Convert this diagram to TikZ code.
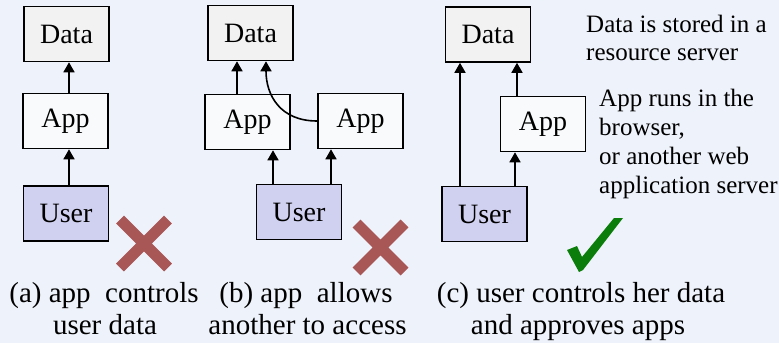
\documentclass[tikz,border=0pt]{standalone}
\usepackage{fontspec}
\setmainfont{LiberationSerif}[Extension=.ttf, UprightFont=*-Regular, BoldFont=*-Bold, ItalicFont=*-Italic]
\usetikzlibrary{positioning, arrows.meta}

\definecolor{bgcol}{RGB}{238,242,250}
\definecolor{datafill}{RGB}{242,242,242}
\definecolor{appfill}{RGB}{248,250,252}
\definecolor{userfill}{RGB}{208,208,240}
\definecolor{crosscol}{RGB}{168,86,86}
\definecolor{tickcol}{RGB}{10,125,10}

\begin{document}
\begin{tikzpicture}[x=1pt, y=-1pt,
		box/.style={draw, line width=1.6pt, minimum width=85pt, minimum height=55pt, inner sep=0pt, font=\rmfamily\fontsize{28}{30}\selectfont},
		databox/.style={box, fill=datafill},
		appbox/.style={box, fill=appfill},
		userbox/.style={box, fill=userfill},
		arr/.style={line width=1.6pt, -{Triangle[width=11pt, length=10pt]}},
		caption/.style={font=\rmfamily\fontsize{29}{32}\selectfont, anchor=base},
		note/.style={font=\rmfamily\fontsize{25}{29}\selectfont, anchor=base west, inner sep=0pt},
		crossmark/.style={line width=11pt, crosscol}]
	\fill[bgcol] (0,0) rectangle (779,343);
	\useasboundingbox (0,0) rectangle (779,343);

	% (a)
	\node[databox] (dataA) at (66.5,34) {Data};
	\node[appbox]  (appA)  at (65.5,121) {App};
	\node[userbox] (userA) at (66,213.5) {User};
	\coordinate (a1) at (69,0);
	\draw[arr] (a1 |- appA.north) -- (a1 |- dataA.south);
	\draw[arr] (a1 |- userA.north) -- (a1 |- appA.south);
	\draw[crossmark] (120,219.5) -- (168,267.5) (120,267.5) -- (168,219.5);
	\node[caption] (capA1) at (104,302) {(a) app~~controls};
	\node[caption] (capA2) at (105,334) {user data};

	% (b)
	\node[databox] (dataB)  at (250.5,33) {Data};
	\node[appbox]  (appB1)  at (247.5,122) {App};
	\node[appbox]  (appB2)  at (360.5,121) {App};
	\node[userbox] (userB)  at (299,212) {User};
	\coordinate (b1) at (237,0);
	\coordinate (b2) at (266,0);
	\coordinate (b3) at (273,0);
	\coordinate (b4) at (331,0);
	\draw[arr] (b1 |- appB1.north) -- (b1 |- dataB.south);
	\draw[arr] (appB2.west) .. controls (280,121) and (266,95) .. (b2 |- dataB.south);
	\draw[arr] (b3 |- userB.north) -- (b3 |- appB1.south);
	\draw[arr] (b4 |- userB.north) -- (b4 |- appB2.south);
	\draw[crossmark] (356.5,223.5) -- (404.5,271.5) (356.5,271.5) -- (404.5,223.5);
	\node[caption] (capB1) at (306,302) {(b) app~~allows};
	\node[caption] (capB2) at (307.5,334) {another to access};

	% (c)
	\node[databox] (dataC) at (488,34.5) {Data};
	\node[appbox]  (appC)  at (543,124) {App};
	\node[userbox] (userC) at (484.5,214) {User};
	\coordinate (c1) at (460,0);
	\coordinate (c2) at (517,0);
	\coordinate (c3) at (515,0);
	\draw[arr] (c1 |- userC.north) -- (c1 |- dataC.south);
	\draw[arr] (c2 |- appC.north) -- (c2 |- dataC.south);
	\draw[arr] (c3 |- userC.north) -- (c3 |- appC.south);
	\fill[tickcol] (567,250) -- (577,246) -- (582,257) -- (614,218) -- (623,218) -- (583,270) -- (579,272) -- cycle;
	\node[caption] (capC1) at (581,302) {(c) user controls her data};
	\node[caption] (capC2) at (578,334) {and approves apps};

	\node[note] (noteData) at (586,32) {Data is stored in a};
	\node[note] (noteData2) at (586,60) {resource server};
	\node[note] (noteApp1) at (599,106) {App runs in the};
	\node[note] (noteApp2) at (599,135) {browser,};
	\node[note] (noteApp3) at (599,164) {or another web};
	\node[note] (noteApp4) at (599,193) {application server};
\end{tikzpicture}
\end{document}
